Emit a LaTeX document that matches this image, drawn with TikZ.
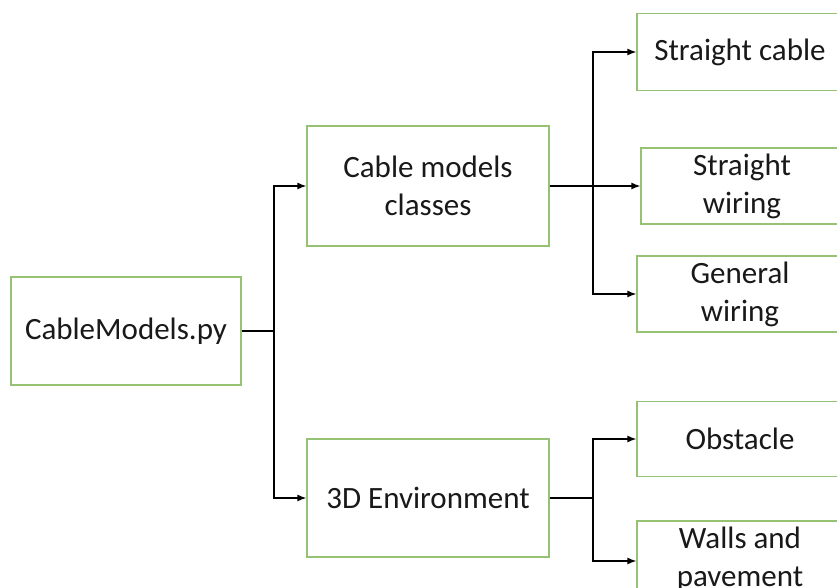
\documentclass[tikz,border=0pt]{standalone}
\usepackage{fontspec}
\setmainfont{Carlito}
\usetikzlibrary{arrows.meta}
\definecolor{boxgreen}{RGB}{150,195,115}
\definecolor{textgray}{RGB}{25,25,25}

\begin{document}
\begin{tikzpicture}[x=1pt,y=1pt,
  box/.style={draw=boxgreen,line width=1.2pt,fill=white,align=center,inner sep=0pt,
    text=textgray,font=\fontsize{31}{38}\selectfont},
  link/.style={line width=1.4pt,-{Latex[length=9pt,width=7pt]}}]
\clip (0,0) rectangle (837,588);
\fill[white] (0,0) rectangle (837,588);

\node (py) [box,minimum width=230,minimum height=108] at (126,257) {CableModels.py};
\node (classes) [box,minimum width=242,minimum height=120] at (428,402) {Cable models\\classes};
\node (env) [box,minimum width=242,minimum height=118] at (428,90) {3D Environment};
\node (scable) [box,minimum width=206,minimum height=77] at (740,536) {Straight cable};
\node (swiring) [box,minimum width=202,minimum height=76] at (742,402) {Straight\\wiring};
\node (gwiring) [box,minimum width=206,minimum height=76] at (740,294) {General\\wiring};
\node (obstacle) [box,minimum width=206,minimum height=75] at (740,149) {Obstacle};
\node (walls) [box,minimum width=206,minimum height=76] at (740,29) {Walls and\\pavement};

\coordinate (fork1) at (274,257);
\coordinate (fork2) at (593,402);
\coordinate (fork3) at (593,90);

\draw[line width=1.4pt] (py.east) -- (fork1);
\draw[link] (fork1) |- (classes.west);
\draw[link] (fork1) |- (env.west);

\draw[link] (classes.east) -- (swiring.west);
\draw[link] (fork2) |- (scable.west);
\draw[link] (fork2) |- (gwiring.west);

\draw[line width=1.4pt] (env.east) -- (fork3);
\draw[link] (fork3) |- (obstacle.west);
\draw[link] (fork3) |- ([yshift=-2]walls.west);
\end{tikzpicture}
\end{document}
